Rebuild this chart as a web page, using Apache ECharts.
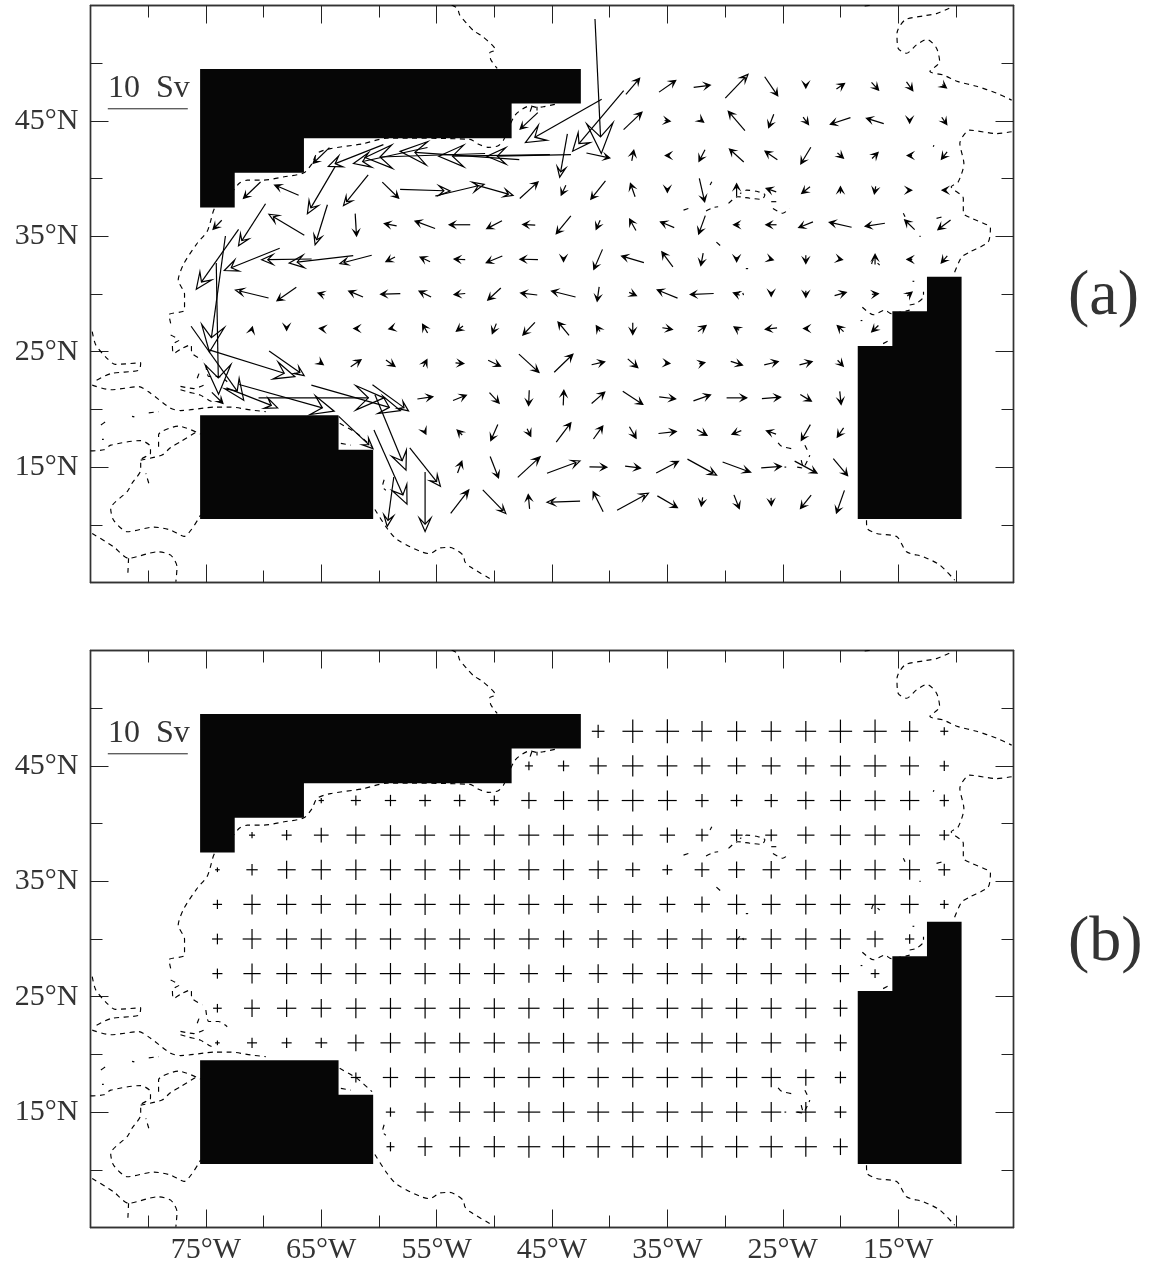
<!DOCTYPE html>
<html>
<head>
<meta charset="utf-8">
<style>html,body{margin:0;padding:0;background:#fff}#c{width:1150px;height:1264px}</style>
<script src="https://cdn.jsdelivr.net/npm/echarts@6/dist/echarts.min.js"></script>
</head>
<body>
<div id="c"></div>
<script>
// Grid of the transport estimates
const gridLons = [-74,-71,-68,-65,-62,-59,-56,-53,-50,-47,-44,-41,-38,-35,-32,-29,-26,-23,-20,-17,-14,-11];
const gridLats = [48,45,42,39,36,33,30,27,24,21,18,15,12];
// first grid column that holds a value in each latitude row
const firstCol = [11,9,3,1,0,0,0,0,0,0,4,5,5];
// panel (a): eastward transport, Sv
const uRows = [
 [.79,1.71,2.08,2.08,2.83,1.63,0,1.0,.88,.79,.54],
 [-2.21,-9.54,-6.38,2.29,.7,.4,-2.08,-.63,.67,-2.5,-2.17,0,.63],
 [-2.04,-6.88,-9.25,-15,-14.9,-13.9,-10.5,-.96,2.92,.25,-.5,-.75,-1.79,-1.54,-1.25,.75,.75,-.6,-.71],
 [-2.13,-3,-3.46,-3.08,2.04,6.25,6.13,4.67,2.29,-.58,-1.83,-.58,0,.67,0,-1.25,-1.04,0,-.17,.5,-.5],
 [-1.08,-3.38,-4.42,-1.54,.17,-1.54,-2.5,-2.63,-1.92,-1.58,-1.83,-.5,-.79,-1.71,-.83,-.75,-1.33,-1.79,-2.79,-2.46,-1.25,-1.58],
 [-5.29,-6.92,-6.25,-8,-3.96,-1.13,-1.25,-1.38,-2,-2.25,0,-1.08,-2.79,-1.38,-.29,0,.5,0,.5,0,-.65,-.75],
 [-2,-4.13,-2.42,-.83,-1.79,-2.46,-1.5,-1.38,-1.63,-2.08,-3,-.25,.9,-2.54,-2.92,-.8,0,0,1.46,.8,.6],
 [.29,.1,0,-.45,-.5,-.4,-.63,-.83,-.5,-1.5,-1.38,-.46,0,1.25,1,-.63,-1.46,-.55,-.79,-.83],
 [6.58,10.7,4.38,.5,1.29,1.13,.46,1.04,1.54,2.5,2.33,1.63,1.25,.6,.7,1.46,1.75,1.58,.71],
 [1.38,6.4,11.88,15.67,11.13,4.5,1.92,1.67,1.21,-.08,.08,1.63,2.5,2.04,2.13,2.5,2.33,1.38,.17],
 [4.29,3.88,.2,-.63,-.88,.46,1.83,1.17,.83,2.21,1.25,-1.17,-1.21,-1.13,-.79],
 [4.13,3.83,.54,1.04,2.79,4.13,2.17,1.92,2.79,3.63,3.5,2.5,2.79,1.79],
 [-.83,0,2.25,2.88,-.17,-4.13,-1.25,3.92,2.5,-.17,.67,.04,-1.33,-1]
];
// panel (a): northward transport, Sv
const vRows = [
 [-16.8,2.0,1.46,.29,2.96,-2.38,-.4,.67,-.96,-1.08,-.42],
 [-2.08,-5.42,-7.58,2.17,-.1,-.3,2.42,-1.67,-.92,-.83,.67,-.5,-.92],
 [-1.96,-2.71,-2,-.5,1.04,-.2,-.2,-5.42,-.63,1.33,0,-1.46,1.63,1.08,-2.08,-.67,.75,0,-.92],
 [-2.04,1.29,-5.88,-3.83,-2,-.2,1.46,-1.33,2.08,-1.25,-2.29,1.67,-.5,-2.92,1.58,.42,-.83,.83,-.92,0,0],
 [-1.13,-5.25,2.63,-5,-2.79,.29,.92,0,-1,.08,-2.25,-1.13,1.42,.71,-2.29,0,0,-.71,.63,-.38,1.21,-1.21],
 [-7.5,-2.79,-.1,-.92,-1.04,-.58,.58,.08,-.83,.04,-.5,-2.5,.83,1.88,-1.54,-.55,-.15,-1.04,-.1,1.25,0,-.88],
 [-14.5,1,-1.67,.25,.75,-.08,.75,-.13,-1.5,.25,.75,-1.79,-.4,1.04,-.13,.3,-.55,-.83,.42,.08,.5],
 [-16.4,.4,-.4,.05,0,-.1,1.08,-.63,-1.25,-1.58,1.67,.71,-1.46,-.21,.75,.42,-.17,0,.75,-.79],
 [-9.25,-3.33,-3.08,-.35,.88,-.79,.88,-.08,-.75,-2.29,2.25,.38,-1.08,-.05,.15,-.46,.42,.42,-.75],
 [-1.38,-2.5,-3.33,0,-3.17,-3.25,.29,.67,-1.33,-1.92,1.88,1.42,-1.63,-.25,.75,0,.17,-.83,-1.63],
 [-4.04,-9.42,-.4,.63,-2,-.92,2.42,1.63,-1.42,.25,-.71,-.46,.42,-1.96,-1.17],
 [-9.25,-4.79,1.46,-2.67,2.58,1.54,-.04,-.25,1.46,-2,-1.29,.17,-1.5,-2.13],
 [-6.17,-7.46,2.92,-2.96,1.79,-.13,2.5,2.13,-1.46,-1.08,-1.71,-.96,-1.67,-2.83]
];
// panel (b): east-west uncertainty, Sv
const exRows = [
 [.79,1.29,1.46,1.25,1.17,1.25,1.29,1.46,1.46,1.08,.5],
 [.5,.71,1.08,1.33,1.25,1.04,1.13,1.17,1.08,1.25,1.42,1.17,.58],
 [.33,.63,.71,.75,.75,.54,.96,1.17,1.29,1.38,1.17,.83,.75,.83,1.08,1.29,1.29,1.21,.58],
 [.38,.63,.92,1.17,1.25,1.25,1.25,1.25,1.29,1.29,1.25,1.25,.96,.79,.75,.75,1.08,1.25,1.29,1.29,.63],
 [.29,.71,1.13,1.21,1.29,1.29,1.33,1.29,1.33,1.29,1.29,1.17,.92,.63,.92,1.04,1.08,1.25,1.33,1.33,1.29,.75],
 [.58,1.08,1.21,1.21,1.25,1.38,1.33,1.25,1.25,1.29,1.17,1.08,1.08,1,1,1.13,1.17,1.25,1.25,1.29,1.13,.54],
 [.67,1.17,1.29,1.29,1.29,1.33,1.33,1.29,1.29,1.25,1.08,1.13,1.13,1.25,1.25,1.25,1.25,1.33,1.25,1.04,.58],
 [.63,1.08,1.29,1.29,1.29,1.33,1.33,1.29,1.29,1.13,1.04,1.17,1.25,1.33,1.29,1.29,1.33,1.29,1.08,.54],
 [.54,1,1.21,1.25,1.25,1.33,1.33,1.29,1.33,1.33,1.29,1.29,1.29,1.38,1.33,1.38,1.29,1.29,.88],
 [.29,.63,.63,.75,1.04,1.25,1.29,1.25,1.33,1.38,1.38,1.33,1.33,1.42,1.38,1.29,1.25,1.21,.79],
 [.63,.96,1.25,1.29,1.33,1.42,1.38,1.33,1.33,1.38,1.33,1.33,1.21,1.08,.71],
 [.58,1.08,1.29,1.33,1.42,1.42,1.38,1.38,1.38,1.38,1.33,1.25,1.25,.75],
 [.5,.92,1.25,1.33,1.42,1.46,1.5,1.42,1.42,1.42,1.46,1.46,1.38,.92]
];
// panel (b): north-south uncertainty, Sv
const eyRows = [
 [.83,1.46,1.5,1.29,1.25,1.25,1.29,1.46,1.46,1.29,.5],
 [.54,.67,1.04,1.33,1.29,1.04,1.04,1.08,1.08,1.29,1.38,1.17,.63],
 [.33,.63,.71,.75,.75,.63,1.04,1.17,1.29,1.38,1.25,.83,.75,.83,1.13,1.29,1.25,1.21,.75],
 [.38,.63,.92,1.08,1.25,1.25,1.21,1.25,1.29,1.29,1.25,1.25,.96,.79,.75,.75,1.08,1.25,1.25,1.25,.63],
 [.29,.71,1.13,1.25,1.29,1.29,1.29,1.25,1.29,1.29,1.29,1.17,.92,.63,.92,1.04,1.08,1.25,1.25,1.25,1.25,.75],
 [.58,1.25,1.25,1.17,1.25,1.38,1.33,1.25,1.25,1.25,1.17,1.08,1.08,1,1,1.25,1.25,1.25,1.25,1.21,1.13,.54],
 [.67,1.25,1.29,1.29,1.29,1.33,1.33,1.29,1.29,1.29,1.08,1.13,1.13,1.25,1.25,1.25,1.25,1.33,1.25,1.04,.58],
 [.63,1.25,1.29,1.29,1.29,1.33,1.33,1.29,1.29,1.13,1.04,1.17,1.25,1.33,1.29,1.29,1.33,1.25,1.08,.54],
 [.54,1.08,1.08,1.17,1.25,1.29,1.29,1.29,1.25,1.29,1.25,1.29,1.29,1.25,1.25,1.29,1.29,1.25,1.04],
 [.29,.63,.63,.63,1.04,1.25,1.29,1.25,1.25,1.25,1.25,1.25,1.25,1.25,1.25,1.25,1.25,1.17,1.04],
 [.63,1.25,1.25,1.25,1.25,1.25,1.25,1.25,1.25,1.25,1.25,1.25,1.21,1.04,.75],
 [.58,1.17,1.25,1.25,1.25,1.25,1.25,1.25,1.25,1.25,1.25,1.25,1.25,.75],
 [.58,1.17,1.25,1.33,1.38,1.38,1.38,1.38,1.38,1.38,1.38,1.38,1.25,1.04]
];
// land masks, lon/lat corners
const landNorth = [[-75.5,49.5],[-42.5,49.5],[-42.5,46.5],[-48.5,46.5],[-48.5,43.5],[-66.5,43.5],[-66.5,40.5],[-72.5,40.5],[-72.5,37.5],[-75.5,37.5]];
const landSouth = [[-75.5,19.5],[-63.5,19.5],[-63.5,16.5],[-60.5,16.5],[-60.5,10.5],[-75.5,10.5]];
const landEast = [[-18.5,25.5],[-15.5,25.5],[-15.5,28.5],[-12.5,28.5],[-12.5,31.5],[-9.5,31.5],[-9.5,10.5],[-18.5,10.5]];
// coastlines, lon/lat
const coasts = [
 [[-53.7,55.05],[-53.2,54.76],[-53,54.18],[-52.4,53.46],[-51.8,52.82],[-51,52.3],[-49.9,51.15],[-50.4,50.9],[-50.3,50.3],[-49.75,49.55]],
 [[-44.75,46.43],[-45.75,46.23],[-46.3,46.17],[-46.9,46.3],[-48.2,45.5],[-49.2,43.34],[-49.66,42.85],[-50.5,42.7],[-51.4,43],[-52.1,43.4],[-59.28,43.51],[-61.45,43],[-64.2,42.6],[-65.35,42.2],[-65.8,41.3],[-66.5,40.5],[-68.2,40.16],[-70,39.87],[-71.4,39.87],[-72.1,39.6],[-72.6,39],[-74.2,37.5],[-74.65,36.1],[-74.9,35.4],[-75.75,34.4],[-76.9,32.65],[-77.4,31.2],[-76.85,30],[-76.85,28.6],[-78.2,28.2],[-78.05,27.46]],
 [[-46.75,46.23],[-46.9,45.8]],
 [[-46.3,46.23],[-46.3,45.9]],
 [[-78.05,26.45],[-77.35,26],[-77.9,25.6],[-77.8,24.85],[-77.05,25.3],[-76.3,25.6],[-76.2,24.85],[-75.3,24.3]],
 [[-75,23.85],[-74.75,22.85],[-73.9,22.85],[-73.15,22.4]],
 [[-75.75,22.7],[-75.6,23.1]],
 [[-77.2,22],[-76.05,21.8],[-75.2,22.1]],
 [[-77.2,21.7],[-76.5,21.5],[-75.5,21.25],[-74.75,20.8],[-74.15,20.5]],
 [[-84.85,26.74],[-84.55,25.6],[-83.55,24.4],[-82.85,23.9],[-80.65,24.05],[-80.8,23.4],[-83.25,23.1],[-84.7,22.4]],
 [[-84.85,22.1],[-83.25,21.7],[-80.8,21.97],[-79.8,21.4],[-78.05,20.1],[-77.2,19.9],[-74.15,20.2],[-72.85,20.2],[-71.1,19.95],[-69.8,19.8]],
 [[-81.4,19.4],[-81.2,19.35]],
 [[-79.95,19.7],[-79.1,19.8]],
 [[-84.1,18.65],[-83.7,18.93]],
 [[-84,17.4],[-83.85,17.4]],
 [[-85,16.4],[-83.85,16.5],[-83.25,16.9],[-80.65,17.3],[-79.8,16.77],[-79.8,16.2],[-80.65,15.6],[-80.65,14.75],[-81.4,13.6],[-81.8,12.9],[-83.25,11.4],[-83,10.4],[-81.8,9.4],[-79.5,9.8],[-78.05,9.54],[-76.9,9],[-75.46,10.85]],
 [[-79.1,16.77],[-79.1,17.8],[-77.35,18.55],[-75.46,17.86]],
 [[-80.65,15.6],[-78.8,16.05],[-78.05,16.7],[-77.2,17.2],[-75.75,18.1]],
 [[-79.95,13.6],[-80.2,14.45]],
 [[-84.85,9.25],[-83,8.1],[-81.7,7.1],[-79.2,7.66],[-78.05,7.37],[-77.5,6.36],[-77.6,5.06]],
 [[-81.7,7.1],[-81.76,5.8]],
 [[-63.4,18.79],[-61.9,17.92],[-60.6,16.77]],
 [[-63.3,17.06],[-62.45,16.9]],
 [[-59.55,13.9],[-59.7,13.3],[-59.4,13]],
 [[-60.35,11.33],[-59.3,9.7],[-58.4,8.7],[-55.6,7.5],[-54.7,8],[-53.85,8.04],[-52.7,7.37],[-52.55,6.8],[-52.1,6.36],[-50.4,5.35]],
 [[-17.9,54.96],[-17.15,55.05]],
 [[-10.57,54.76],[-11.67,54.3],[-12.8,54.1],[-14.4,53.75],[-15.1,52.6],[-15,51.3],[-14.27,50.86],[-13.4,51.6],[-12.5,52.07],[-11.67,51.3],[-11.4,50.13],[-12.25,49.27],[-11.1,48.98],[-9.8,48.4],[-8.2,48],[-6.46,47.4],[-5.16,46.8]],
 [[-5.16,44.06],[-6.46,43.9],[-8.8,44.2],[-9.65,43.05],[-9.3,41.3],[-9.8,39.7],[-10.4,39.3],[-9.35,38.3],[-9.35,37],[-8.6,36.55],[-7,35.7],[-7.2,34.5],[-8.75,33.66],[-9.5,33.2],[-10.2,31.64]],
 [[-11.95,42.76],[-11.9,42.9]],
 [[-14.55,37],[-14.4,36.7]],
 [[-11.67,36.55],[-11.1,36.7]],
 [[-13.15,35],[-13.05,35]],
 [[-29.7,37.85],[-28.9,38.43],[-27.85,38.3],[-26.8,38.2],[-26.55,38.6],[-27.27,38.9],[-28.14,39],[-28.7,38.7]],
 [[-33.6,37.27],[-32.9,37.5]],
 [[-31.65,37.2],[-31,37.5],[-30.6,37.56]],
 [[-31.3,39.44],[-31.15,39.73]],
 [[-26,38],[-25.25,38]],
 [[-25.85,37.4],[-25,37],[-24.4,37.4]],
 [[-30.75,34.5],[-30.2,34]],
 [[-28.2,32.2],[-28,32.2]],
 [[-17.3,32.6],[-17.15,32.94],[-16.6,32.5]],
 [[-29,29.9],[-28.6,30.3],[-28.4,29.9]],
 [[-18.1,28.85],[-17.15,28.2],[-16.15,28.6],[-15.6,28.3],[-14,28.6]],
 [[-18.25,27.7],[-18.1,27.7]],
 [[-14,29.05],[-13.4,29.2],[-12.8,29.77],[-12.8,30.2]],
 [[-13.75,31.1],[-13.6,31.1]],
 [[-16.3,25.7],[-15.6,26.07]],
 [[-25.4,17.1],[-25.1,16.8],[-24.24,16.6]],
 [[-23.08,16.9],[-22.8,16.33]],
 [[-23.4,15.6],[-23.2,15],[-22.65,16.04]],
 [[-23.75,15],[-23.2,14.9]],
 [[-24.85,15],[-24.7,15]],
 [[-17.74,10.4],[-17.7,9.7],[-16.87,9.25],[-15.1,8.96],[-14.27,7.66],[-12.8,7.23],[-11.37,6.5],[-10.1,5.2]]
];
// axis ticks
const xMajorTicks = [-75,-65,-55,-45,-35,-25,-15];
const xMinorTicks = [-80,-70,-60,-50,-40,-30,-20,-10];
const yMajorTicks = [15,25,35,45];
const yMinorTicks = [10,20,30,40,50];
const xTickLabels = ['75°W','65°W','55°W','45°W','35°W','25°W','15°W'];
const yTickLabels = ['15°N','25°N','35°N','45°N'];
const scaleBarSv = 10;
const scaleBarAt = [-83.5,46.05];
const scaleBarText = '10\u2002Sv';
const panelNames = ['(a)','(b)'];

const PX_PER_SV = 8;
const SERIF = '"Liberation Serif","DejaVu Serif",serif';
const INK = '#333333';

const pointsA = [], pointsB = [];
gridLats.forEach((lat,r)=>{
  uRows[r].forEach((u,i)=>pointsA.push([gridLons[firstCol[r]+i],lat,u,vRows[r][i]]));
  exRows[r].forEach((e,i)=>pointsB.push([gridLons[firstCol[r]+i],lat,e,eyRows[r][i]]));
});

function arrowItem(params,api){
  const c = api.coord([api.value(0),api.value(1)]);
  const dx = api.value(2)*PX_PER_SV, dy = -api.value(3)*PX_PER_SV;
  const L = Math.hypot(dx,dy)||1;
  const ux = L>0.01?dx/L:1, uy = L>0.01?dy/L:0;
  const tip = [c[0]+dx/2,c[1]+dy/2], tail = [c[0]-dx/2,c[1]-dy/2];
  const back = Math.max(5.4,0.225*L), half = Math.max(2.8,0.098*L), notch = Math.max(3,0.124*L);
  const at = (b,s)=>[tip[0]-ux*b-uy*s, tip[1]-uy*b+ux*s];
  const lineEnd = L>notch ? at(notch,0) : tip;
  return {type:'group',children:[
    {type:'line',shape:{x1:tail[0],y1:tail[1],x2:lineEnd[0],y2:lineEnd[1]},style:{stroke:'#000',lineWidth:1.2}},
    {type:'polygon',shape:{points:[tip,at(back,half),at(notch,0),at(back,-half)]},
     style:{fill:L<32?'#000':'none',stroke:'#000',lineWidth:1.2,lineJoin:'miter'}}
  ]};
}
function crossItem(params,api){
  const c = api.coord([api.value(0),api.value(1)]);
  const hx = api.value(2)*PX_PER_SV, hy = api.value(3)*PX_PER_SV;
  return {type:'group',children:[
    {type:'line',shape:{x1:c[0]-hx,y1:c[1],x2:c[0]+hx,y2:c[1]},style:{stroke:'#000',lineWidth:1.2}},
    {type:'line',shape:{x1:c[0],y1:c[1]-hy,x2:c[0],y2:c[1]+hy},style:{stroke:'#000',lineWidth:1.2}}
  ]};
}
function landItem(lands){
  return function(params,api){
    return {type:'polygon',shape:{points:lands[params.dataIndex].map(p=>api.coord(p))},style:{fill:'#060606',stroke:'none'}};
  };
}
function scaleItem(params,api){
  const c = api.coord([api.value(0),api.value(1)]);
  const w = api.value(2)*PX_PER_SV;
  return {type:'group',children:[
    {type:'line',shape:{x1:c[0],y1:c[1],x2:c[0]+w,y2:c[1]},style:{stroke:'#222',lineWidth:1}},
    {type:'text',style:{text:scaleBarText,x:c[0]+w/2+1,y:c[1]-36,align:'center',verticalAlign:'top',font:'32px '+SERIF,fill:INK}}
  ]};
}

const xAxes=[], yAxes=[], series=[];
[0,1].forEach(g=>{
  const base = {gridIndex:g,type:'value',min:-85,max:-5,splitLine:{show:false}};
  const lineStyle = {show:true,onZero:false,lineStyle:{color:'#333',width:1.4}};
  const xa = (pos,ticks,len,labels)=>({...base,position:pos,axisLine:lineStyle,
    axisTick:{show:true,inside:true,length:len,customValues:ticks,lineStyle:{color:'#222',width:1}},
    axisLabel:labels?{show:true,customValues:ticks,margin:8,color:INK,fontFamily:SERIF,fontSize:30,
      formatter:v=>xTickLabels[xMajorTicks.indexOf(v)]}:{show:false}});
  xAxes.push(xa('bottom',xMajorTicks,18,g===1),xa('bottom',xMinorTicks,12,false),xa('top',xMajorTicks,18,false),xa('top',xMinorTicks,12,false));
  const ybase = {gridIndex:g,type:'value',min:5,max:55,splitLine:{show:false}};
  const ya = (pos,ticks,len,labels)=>({...ybase,position:pos,axisLine:lineStyle,
    axisTick:{show:true,inside:true,length:len,customValues:ticks,lineStyle:{color:'#222',width:1}},
    axisLabel:labels?{show:true,customValues:ticks,margin:12,color:INK,fontFamily:SERIF,fontSize:30,padding:[2,0,0,0],
      formatter:v=>yTickLabels[yMajorTicks.indexOf(v)]}:{show:false}});
  yAxes.push(ya('left',yMajorTicks,18,true),ya('left',yMinorTicks,12,false),ya('right',yMajorTicks,18,false),ya('right',yMinorTicks,12,false));
  const ax = {xAxisIndex:g*4,yAxisIndex:g*4,animation:false,silent:true};
  coasts.forEach(c=>series.push({...ax,type:'line',data:c,symbol:'none',smooth:0.25,z:2,clip:true,
    lineStyle:{color:'#000',width:1.15,type:[5,4.5]}}));
  const lands=[landNorth,landSouth,landEast];
  series.push({...ax,type:'custom',z:3,data:lands.map(l=>l[0]),renderItem:landItem(lands),encode:{x:0,y:1}});
  series.push({...ax,type:'custom',z:4,data:g===0?pointsA:pointsB,renderItem:g===0?arrowItem:crossItem,encode:{x:0,y:1}});
  series.push({...ax,type:'custom',z:5,data:[[scaleBarAt[0],scaleBarAt[1],scaleBarSv]],renderItem:scaleItem,encode:{x:0,y:1}});
});

const chart = echarts.init(document.getElementById('c'),null,{renderer:'canvas'});
chart.setOption({
  backgroundColor:'#fff',
  animation:false,
  grid:[{left:90.5,top:5.5,width:923,height:577,outerBoundsMode:'none'},{left:90.5,top:650.5,width:923,height:577,outerBoundsMode:'none'}],
  xAxis:xAxes,
  yAxis:yAxes,
  series:series,
  graphic:[
    {type:'text',left:1068,top:265,silent:true,style:{text:panelNames[0],font:'64px '+SERIF,fill:INK}},
    {type:'text',left:1068,top:911,silent:true,style:{text:panelNames[1],font:'64px '+SERIF,fill:INK}}
  ]
});
</script>
</body>
</html>
